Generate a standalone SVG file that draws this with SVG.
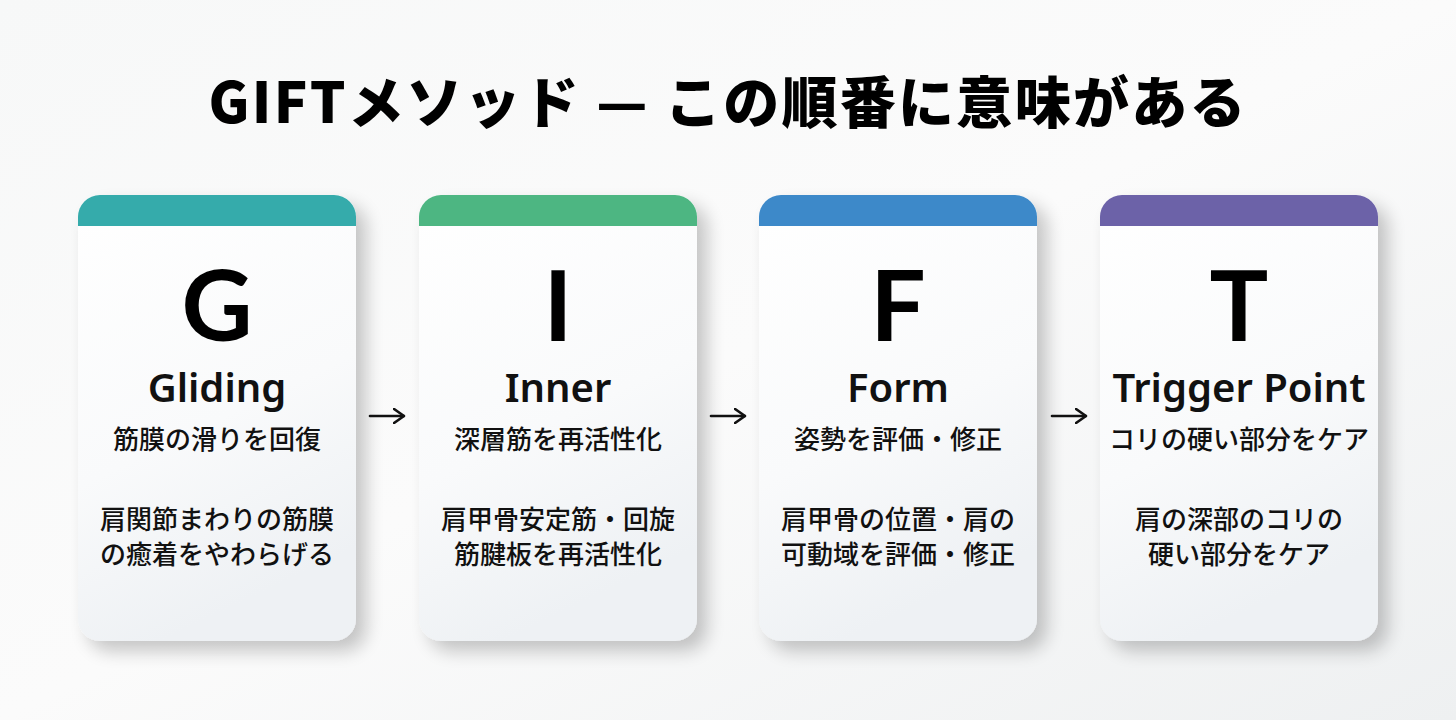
<svg xmlns="http://www.w3.org/2000/svg" width="1456" height="720" viewBox="0 0 1456 720">
<defs>
<linearGradient id="bg" x1="0" y1="0" x2="1" y2="1">
<stop offset="0" stop-color="#f7f8f8"/><stop offset="0.5" stop-color="#fbfbfb"/><stop offset="1" stop-color="#eef0f1"/>
</linearGradient>
<linearGradient id="cardg" x1="0" y1="0" x2="0.3" y2="1">
<stop offset="0" stop-color="#ffffff"/><stop offset="0.6" stop-color="#f9fafb"/><stop offset="1" stop-color="#eef1f4"/>
</linearGradient>
<filter id="sh" x="-20%" y="-20%" width="150%" height="150%">
<feGaussianBlur in="SourceAlpha" stdDeviation="9"/>
<feOffset dx="10" dy="10" result="b"/>
<feComponentTransfer><feFuncA type="linear" slope="0.22"/></feComponentTransfer>
<feMerge><feMergeNode/><feMergeNode in="SourceGraphic"/></feMerge>
</filter>
<marker id="ah" viewBox="0 0 12 16" refX="11" refY="8" markerWidth="12" markerHeight="16" markerUnits="userSpaceOnUse" orient="auto">
<path d="M1,1 L11,8 L1,15" fill="none" stroke="#111" stroke-width="2.6" stroke-linecap="round" stroke-linejoin="round"/>
</marker>
<style>
.body{fill:url(#cardg)}
.big{font-family:"Lato","Noto Sans",sans-serif;font-weight:700;font-size:98px;fill:#000;text-anchor:middle}
.name{font-family:"Noto Sans","Lato",sans-serif;font-weight:600;font-size:40px;fill:#111;text-anchor:middle}
.sub{font-family:"Noto Sans CJK JP",sans-serif;font-weight:500;font-size:26px;fill:#111;text-anchor:middle}
.desc{font-family:"Noto Sans CJK JP",sans-serif;font-weight:500;font-size:26px;fill:#111;text-anchor:middle}
.title{font-family:"Noto Sans CJK JP",sans-serif;font-weight:900;font-size:56px;fill:#000;text-anchor:middle}
.conn{stroke:#111;stroke-width:2.6;fill:none;stroke-linecap:round}
</style>
</defs>
<rect width="1456" height="720" fill="url(#bg)"/>
<text class="title" x="727" y="123" textLength="1037" lengthAdjust="spacing">GIFTメソッド — この順番に意味がある</text>

<g id="card-g" filter="url(#sh)">
<rect class="body" x="78" y="195" width="278" height="446" rx="22"/>
<path d="M78,226 V217 A22,22 0 0 1 100,195 H334 A22,22 0 0 1 356,217 V226 Z" fill="#35abab"/>
</g>
<g id="card-i" filter="url(#sh)">
<rect class="body" x="419" y="195" width="278" height="446" rx="22"/>
<path d="M419,226 V217 A22,22 0 0 1 441,195 H675 A22,22 0 0 1 697,217 V226 Z" fill="#4db682"/>
</g>
<g id="card-f" filter="url(#sh)">
<rect class="body" x="759" y="195" width="278" height="446" rx="22"/>
<path d="M759,226 V217 A22,22 0 0 1 781,195 H1015 A22,22 0 0 1 1037,217 V226 Z" fill="#3d89c9"/>
</g>
<g id="card-t" filter="url(#sh)">
<rect class="body" x="1100" y="195" width="278" height="446" rx="22"/>
<path d="M1100,226 V217 A22,22 0 0 1 1122,195 H1356 A22,22 0 0 1 1378,217 V226 Z" fill="#6c62a8"/>
</g>

<g id="text-g">
<text class="big" x="217" y="341">G</text>
<text class="name" x="217" y="402">Gliding</text>
<text class="sub" x="217" y="449">筋膜の滑りを回復</text>
<text class="desc" x="217" y="529">肩関節まわりの筋膜</text>
<text class="desc" x="217" y="564">の癒着をやわらげる</text>
</g>
<g id="text-i">
<text class="big" x="558" y="341">I</text>
<text class="name" x="558" y="402">Inner</text>
<text class="sub" x="558" y="449">深層筋を再活性化</text>
<text class="desc" x="558" y="529">肩甲骨安定筋・回旋</text>
<text class="desc" x="558" y="564">筋腱板を再活性化</text>
</g>
<g id="text-f">
<text class="big" x="898" y="341">F</text>
<text class="name" x="898" y="402">Form</text>
<text class="sub" x="898" y="449">姿勢を評価・修正</text>
<text class="desc" x="898" y="529">肩甲骨の位置・肩の</text>
<text class="desc" x="898" y="564">可動域を評価・修正</text>
</g>
<g id="text-t">
<text class="big" x="1239" y="341">T</text>
<text class="name" x="1239" y="402">Trigger Point</text>
<text class="sub" x="1239" y="449">コリの硬い部分をケア</text>
<text class="desc" x="1239" y="529">肩の深部のコリの</text>
<text class="desc" x="1239" y="564">硬い部分をケア</text>
</g>

<g id="connectors">
<path class="conn" d="M370,416 H404" marker-end="url(#ah)"/>
<path class="conn" d="M711,416 H745" marker-end="url(#ah)"/>
<path class="conn" d="M1052,416 H1086" marker-end="url(#ah)"/>
</g>
</svg>
